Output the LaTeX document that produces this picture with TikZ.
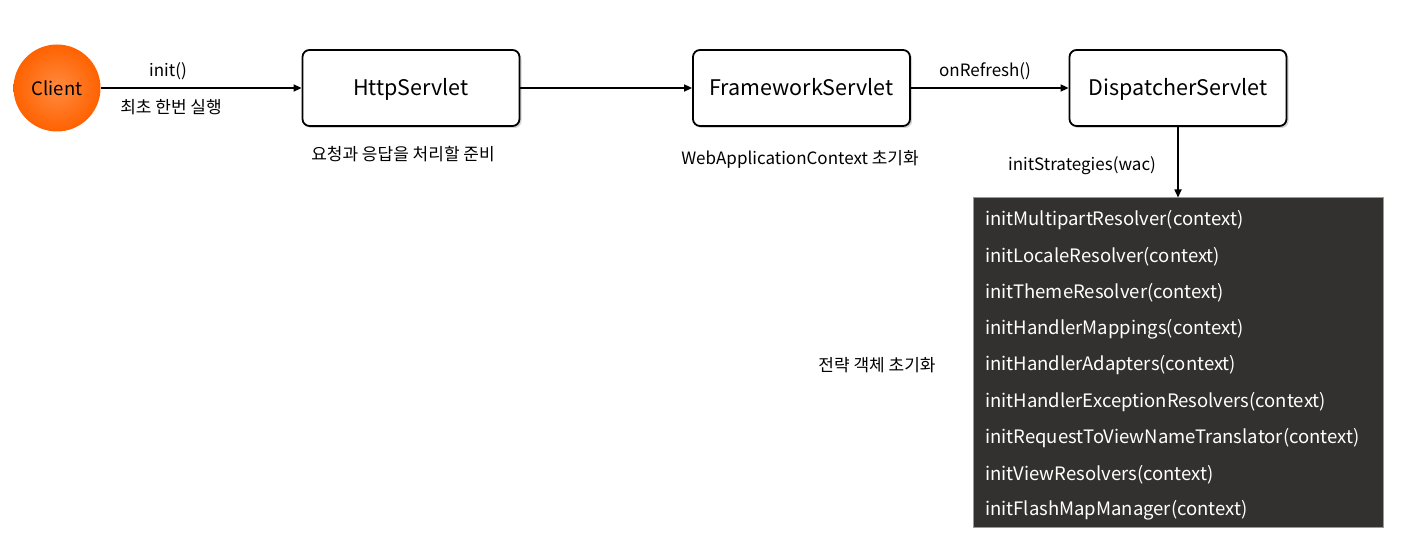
\documentclass[tikz,border=0pt]{standalone}
\usepackage{fontspec}
\setmainfont{Noto Sans CJK KR}
\usetikzlibrary{arrows.meta,shadows}
\definecolor{darkbox}{HTML}{333130}
\definecolor{orangeA}{HTML}{FF8A40}
\definecolor{orangeB}{HTML}{FF6200}
\tikzset{
  x=1pt,y=-1pt,
  servlet/.style={draw=black,line width=1.8pt,rounded corners=7pt,fill=white,minimum width=217pt,minimum height=76pt,text height=15.5pt,text depth=0pt,font=\fontsize{21.5}{24}\selectfont,drop shadow={shadow xshift=2pt,shadow yshift=-2pt,opacity=0.35}},
  conn/.style={line width=1.6pt,-{Triangle[length=8pt,width=7pt]}},
  lbl/.style={font=\fontsize{17}{20}\selectfont,inner sep=0pt},
  item/.style={font=\fontsize{18.5}{21}\selectfont,text=white,anchor=west,inner sep=0pt},
}
\begin{document}
\begin{tikzpicture}
\useasboundingbox (0,0) rectangle (1421,537);
\node[circle,minimum size=87pt,inner sep=0pt,inner color=orangeA,outer color=orangeB,font=\fontsize{18.5}{21}\selectfont] (client) at (57,88) {Client};
\node[servlet] (http) at (411,88) {HttpServlet};
\node[servlet] (fw) at (801.5,88) {FrameworkServlet};
\node[servlet] (ds) at (1178,88) {DispatcherServlet};
\node[draw=gray!80,line width=1pt,fill=darkbox,minimum width=410pt,minimum height=329pt,inner sep=0pt] (box) at (1178,362.5) {};
\draw[conn] (client) -- (http);
\draw[conn] (http) -- (fw);
\draw[conn] (fw) -- (ds);
\draw[conn] (ds) -- (box);
\node[lbl] (l1) at (168,71) {init()};
\node[lbl] (l2) at (171,107) {최초 한번 실행};
\node[lbl] (l3) at (985,71) {onRefresh()};
\node[lbl] (l4) at (403,154) {요청과 응답을 처리할 준비};
\node[lbl] (l5) at (800,159) {WebApplicationContext 초기화};
\node[lbl] (l6) at (1082,166) {initStrategies(wac)};
\node[lbl] (l7) at (877,365) {전략 객체 초기화};
\node[item] (i1) at (985,220.5) {initMultipartResolver(context)};
\node[item] (i2) at (985,256.8) {initLocaleResolver(context)};
\node[item] (i3) at (985,293) {initThemeResolver(context)};
\node[item] (i4) at (985,329.3) {initHandlerMappings(context)};
\node[item] (i5) at (985,365.5) {initHandlerAdapters(context)};
\node[item] (i6) at (985,401.8) {initHandlerExceptionResolvers(context)};
\node[item] (i7) at (985,438) {initRequestToViewNameTranslator(context)};
\node[item] (i8) at (985,474.3) {initViewResolvers(context)};
\node[item] (i9) at (985,510.5) {initFlashMapManager(context)};
\end{tikzpicture}
\end{document}
